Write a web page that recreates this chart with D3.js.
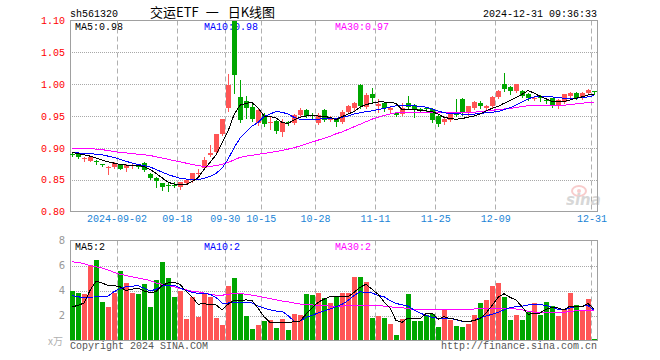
<!DOCTYPE html>
<html>
<head>
<meta charset="utf-8">
<script src="https://cdn.jsdelivr.net/npm/d3@7/dist/d3.min.js"></script>
<style>
  body { margin: 0; background: #fff; }
  #kline text { font-family: "Liberation Mono", "DejaVu Sans Mono", monospace; font-size: 10px; }
</style>
</head>
<body>
<div id="kline"></div>
<script>
// trading days shown (8/21 .. 12/31)
var dates = [
  '2024-08-21','2024-08-22','2024-08-23','2024-08-26','2024-08-27','2024-08-28','2024-08-29','2024-08-30',
  '2024-09-02','2024-09-03','2024-09-04','2024-09-05','2024-09-06','2024-09-09','2024-09-10','2024-09-11',
  '2024-09-12','2024-09-13','2024-09-18','2024-09-19','2024-09-20','2024-09-23','2024-09-24','2024-09-25',
  '2024-09-26','2024-09-27','2024-09-30','2024-10-08','2024-10-09','2024-10-10','2024-10-11','2024-10-14',
  '2024-10-15','2024-10-16','2024-10-17','2024-10-18','2024-10-21','2024-10-22','2024-10-23','2024-10-24',
  '2024-10-25','2024-10-28','2024-10-29','2024-10-30','2024-10-31','2024-11-01','2024-11-04','2024-11-05',
  '2024-11-06','2024-11-07','2024-11-08','2024-11-11','2024-11-12','2024-11-13','2024-11-14','2024-11-15',
  '2024-11-18','2024-11-19','2024-11-20','2024-11-21','2024-11-22','2024-11-25','2024-11-26','2024-11-27',
  '2024-11-28','2024-11-29','2024-12-02','2024-12-03','2024-12-04','2024-12-05','2024-12-06','2024-12-09',
  '2024-12-10','2024-12-11','2024-12-12','2024-12-13','2024-12-16','2024-12-17','2024-12-18','2024-12-19',
  '2024-12-20','2024-12-23','2024-12-24','2024-12-25','2024-12-26','2024-12-27','2024-12-30','2024-12-31'
];

var opens = [
  .890,.890,.883,.880,.879,.874,.869,.870,.874,.868,
  .872,.872,.876,.859,.853,.844,.842,.842,.838,.845,
  .849,.860,.868,.889,.893,.922,.962,1.100,.980,.973,
  .964,.939,.952,.939,.942,.925,.940,.939,.952,.960,
  .951,.939,.960,.944,.945,.940,.957,.962,.999,.964,
  .985,.965,.970,.959,.955,.953,.970,.967,.961,.962,
  .961,.950,.941,.944,.957,.976,.954,.963,.971,.962,
  .965,.980,1.000,.995,.989,.989,.984,.977,.982,.975,
  .978,.965,.972,.981,.986,.979,.986,.989
];
var closes = [
  .889,.885,.884,.886,.878,.873,.870,.876,.867,.873,
  .873,.871,.865,.852,.848,.839,.841,.841,.846,.849,
  .860,.861,.881,.892,.921,.945,.999,1.015,.943,.962,
  .946,.960,.938,.940,.926,.941,.939,.951,.960,.950,
  .950,.952,.944,.947,.941,.957,.965,.971,.965,.983,
  .978,.969,.962,.963,.951,.962,.964,.961,.960,.961,
  .943,.938,.946,.954,.952,.954,.965,.972,.965,.966,
  .980,.989,.993,.989,1.000,.982,.979,.978,.978,.974,
  .966,.975,.984,.986,.978,.986,.991,.988
];
var highs = [
  .892,.891,.886,.887,.881,.875,.872,.878,.875,.874,
  .876,.873,.877,.860,.854,.845,.847,.846,.847,.851,
  .861,.866,.886,.905,.922,.946,1.016,1.100,1.007,.982,
  .971,.962,.955,.948,.944,.946,.942,.953,.962,.961,
  .955,.954,.961,.950,.946,.959,.967,.972,1.000,.986,
  .994,.976,.972,.965,.957,.970,.982,.969,.963,.963,
  .962,.951,.947,.956,.977,.978,.966,.974,.973,.968,
  .981,.991,1.017,.997,1.000,.991,.986,.981,.983,.978,
  .979,.976,.985,.987,.987,.987,.993,.990
];
var lows = [
  .887,.884,.880,.879,.874,.871,.859,.868,.866,.863,
  .868,.869,.864,.851,.838,.833,.832,.838,.836,.843,
  .847,.858,.866,.887,.892,.920,.958,.986,.940,.947,
  .942,.936,.935,.930,.924,.918,.936,.937,.950,.948,
  .947,.937,.942,.942,.934,.939,.955,.960,.963,.962,
  .970,.957,.958,.957,.950,.951,.962,.948,.957,.958,
  .940,.935,.937,.942,.950,.952,.952,.961,.963,.960,
  .963,.978,.989,.985,.988,.980,.975,.975,.974,.970,
  .964,.963,.970,.979,.976,.977,.984,.985
];

var ma5 = [
  .893,.891,.889,.887,.884,.881,.878,.876,.874,.873,
  .872,.872,.871,.866,.860,.853,.846,.843,.842,.842,
  .847,.853,.866,.877,.889,.908,.926,.952,.967,.970,
  .971,.963,.950,.949,.947,.940,.938,.944,.948,.950,
  .951,.950,.949,.948,.944,.949,.953,.957,.964,.968,
  .970,.972,.972,.971,.970,.960,.960,.960,.959,.958,
  .957,.953,.948,.946,.945,.946,.948,.950,.953,.958,
  .962,.965,.970,.974,.979,.984,.990,.986,.981,.977,
  .973,.973,.973,.975,.978,.980,.983,.984
];
var ma10 = [
  .893,.892,.891,.891,.890,.889,.887,.885,.882,.879,
  .876,.874,.872,.870,.866,.862,.858,.855,.852,.851,
  .850,.850,.852,.855,.860,.868,.882,.900,.915,.925,
  .934,.940,.949,.953,.957,.956,.953,.948,.945,.944,
  .944,.945,.946,.946,.946,.948,.950,.953,.955,.957,
  .958,.960,.962,.964,.966,.967,.966,.966,.965,.964,
  .961,.958,.955,.954,.954,.953,.953,.953,.954,.955,
  .956,.957,.960,.963,.967,.972,.977,.980,.981,.981,
  .980,.979,.978,.978,.978,.979,.980,.982
];
var ma30 = [
  .899,.899,.899,.899,.898,.897,.896,.894,.893,.892,
  .891,.890,.889,.888,.886,.884,.882,.880,.878,.876,
  .874,.872,.871,.871,.872,.874,.877,.881,.885,.887,
  .888,.890,.891,.893,.894,.896,.898,.900,.903,.906,
  .909,.912,.915,.918,.922,.925,.929,.933,.937,.941,
  .945,.948,.951,.953,.955,.955,.955,.955,.955,.955,
  .955,.955,.955,.955,.955,.955,.955,.956,.957,.958,
  .959,.960,.961,.962,.963,.965,.966,.966,.966,.967,
  .967,.967,.967,.968,.969,.970,.971,.972
];

// volume, 万
var volumes = [
  3.98,3.79,3.69,6.02,6.45,3.10,2.71,3.82,5.54,4.59,
  3.82,3.71,4.51,2.71,4.83,6.26,5.01,3.50,3.98,1.72,
  3.50,1.91,3.69,3.50,1.83,1.25,4.35,5.01,3.71,1.99,
  0.93,1.25,1.56,1.62,1.03,1.72,0.85,2.12,2.04,3.71,
  3.63,3.79,3.40,3.02,3.45,3.82,3.82,5.09,5.09,4.69,
  1.83,1.99,1.83,1.35,0.40,1.72,3.74,1.59,1.59,2.04,
  2.12,1.11,2.52,1.67,1.19,1.11,1.35,2.04,3.02,3.24,
  4.38,4.62,3.50,1.64,2.07,1.64,2.31,3.00,2.04,3.10,
  2.76,1.99,2.44,3.79,2.84,2.36,3.32,0.13
];
var volMa5 = [
  2.70,2.80,3.00,4.00,4.75,4.60,4.40,4.40,4.30,4.00,
  4.10,4.20,3.95,3.85,3.90,4.40,4.60,4.65,4.50,3.95,
  3.50,2.90,2.95,2.85,2.85,2.45,2.90,3.20,3.20,3.25,
  3.20,2.60,1.90,1.45,1.40,1.45,1.45,1.50,1.55,2.10,
  2.60,3.05,3.30,3.50,3.50,3.50,3.50,3.85,4.25,4.50,
  4.10,3.70,3.10,2.60,1.60,1.45,1.80,1.80,1.75,2.15,
  2.20,1.70,1.90,1.75,1.70,1.55,1.50,1.60,1.75,2.20,
  2.80,3.45,3.75,3.45,3.25,2.70,2.10,2.15,2.20,2.50,
  2.65,2.60,2.45,2.75,2.75,2.70,2.95,2.55
];
var volMa10 = [
  3.58,3.50,3.42,3.45,3.50,3.50,3.55,3.90,4.15,4.30,
  4.35,4.38,4.20,3.95,4.10,4.35,4.43,4.43,4.20,4.00,
  3.85,3.77,3.75,3.70,3.45,3.00,3.00,3.05,3.05,3.05,
  3.00,2.75,2.60,2.45,2.36,2.36,2.00,1.55,1.55,1.85,
  2.00,2.20,2.35,2.52,2.70,2.89,3.20,3.60,3.90,3.85,
  3.80,3.60,3.50,3.20,2.97,2.85,2.75,2.45,2.20,2.00,
  1.85,1.78,1.78,1.78,1.65,1.55,1.50,1.62,1.80,1.95,
  2.10,2.25,2.45,2.63,2.70,2.75,2.84,2.87,2.89,2.80,
  2.65,2.50,2.44,2.60,2.71,2.75,2.79,2.44
];
var volMa30 = [
  6.30,6.25,6.15,6.00,5.90,5.80,5.65,5.45,5.30,5.20,
  5.10,5.00,4.90,4.80,4.60,4.50,4.40,4.30,4.16,4.05,
  3.95,3.90,3.80,3.70,3.63,3.62,3.70,3.77,3.75,3.70,
  3.63,3.55,3.45,3.35,3.25,3.16,3.10,3.00,2.92,2.89,
  2.85,2.80,2.80,2.75,2.70,2.75,2.80,2.84,2.84,2.80,
  2.80,2.79,2.75,2.70,2.65,2.63,2.55,2.45,2.44,2.48,
  2.50,2.52,2.52,2.52,2.52,2.52,2.52,2.52,2.54,2.55,
  2.56,2.57,2.56,2.54,2.52,2.45,2.35,2.28,2.25,2.25,
  2.25,2.25,2.27,2.30,2.38,2.44,2.40,2.36
];

var priceTicks  = [0.80, 0.85, 0.90, 0.95, 1.00, 1.05, 1.10];
var volumeTicks = [2, 4, 6, 8];
var tickDates   = ['2024-09-02','2024-09-18','2024-09-30','2024-10-15','2024-10-28','2024-11-11','2024-11-25','2024-12-09','2024-12-31'];
var tickLabels  = ['2024-09-02','09-18','09-30','10-15','10-28','11-11','11-25','12-09','12-31'];

var KLineChart = function( _id ) {

  var that = this;

  that.id = _id;
  that.w  = 660;
  that.h  = 360;

  that.left   = 70;
  that.right  = 597;
  that.pTop   = 20.5;
  that.pBot   = 211.5;
  that.vTop   = 240.5;
  that.vBot   = 340.5;

  that.red   = '#ff5555';
  that.green = '#00a600';
  that.frame = '#a0a0a0';

  that.init = function() {

    that.svg = d3.select('#'+that.id).append('svg')
      .attr('width', that.w)
      .attr('height', that.h);

    that.rows = dates.map(function(d, i) {
      return { date: d, o: opens[i], h: highs[i], l: lows[i], c: closes[i], v: volumes[i],
               ma5: ma5[i], ma10: ma10[i], ma30: ma30[i],
               vma5: volMa5[i], vma10: volMa10[i], vma30: volMa30[i] };
    });

    that.x = d3.scaleBand()
      .domain(dates)
      .range([that.left - 1, that.right + 1]);

    that.y = d3.scaleLinear()
      .domain([0.80, 1.10])
      .range([that.pBot, that.pTop]);

    that.yv = d3.scaleLinear()
      .domain([0, 8])
      .range([that.vBot, that.vTop]);

    that.drawHeader();
    that.drawGrid();
    that.drawPrice();
    that.drawVolume();
    that.drawFooter();

    return that;
  };

  that.cx = function(d) { return Math.floor(that.x(d)) + 3.5; };

  that.drawHeader = function() {

    that.svg.append('text')
      .attr('x', 70).attr('y', 16.5)
      .text('sh561320');

    // title, three pieces so the gaps round the dash stay wide
    var title = that.svg.append('text')
      .attr('x', 150).attr('y', 17)
      .style('font-family', '"Noto Sans CJK SC", sans-serif')
      .style('font-size', '13px');
    title.append('tspan').text('交运ETF');
    title.append('tspan').attr('dx', 7).text('一');
    title.append('tspan').attr('dx', 9).text('日K线图');

    that.svg.append('text')
      .attr('x', that.right).attr('y', 16.5)
      .attr('text-anchor', 'end')
      .text('2024-12-31 09:36:33');
  };

  that.drawGrid = function() {

    var g = that.svg.append('g').attr('class', 'grid');

    // horizontal dotted lines
    g.selectAll('.hp')
      .data(priceTicks.filter(function(t) { return t > 0.80 && t < 1.10; }))
    .enter().append('line')
      .attr('x1', that.left).attr('x2', that.right)
      .attr('y1', function(d) { return Math.round(that.y(d)) + 0.5; })
      .attr('y2', function(d) { return Math.round(that.y(d)) + 0.5; })
      .attr('stroke', '#a8a8a8')
      .attr('stroke-dasharray', '1,1');

    g.selectAll('.hv')
      .data(volumeTicks.filter(function(t) { return t < 8; }))
    .enter().append('line')
      .attr('x1', that.left).attr('x2', that.right)
      .attr('y1', function(d) { return Math.round(that.yv(d)) + 0.5; })
      .attr('y2', function(d) { return Math.round(that.yv(d)) + 0.5; })
      .attr('stroke', '#a8a8a8')
      .attr('stroke-dasharray', '1,1');

    // vertical dashed lines, both panels
    [[that.pTop, that.pBot], [that.vTop, that.vBot]].forEach(function(span) {
      g.selectAll(null)
        .data(tickDates)
      .enter().append('line')
        .attr('x1', function(d) { return Math.floor(that.x(d)) + 0.5; })
        .attr('x2', function(d) { return Math.floor(that.x(d)) + 0.5; })
        .attr('y1', span[0]).attr('y2', span[1])
        .attr('stroke', '#b0b0b0')
        .attr('stroke-dasharray', '5,3');
    });

    // frames
    [[that.pTop, that.pBot], [that.vTop, that.vBot]].forEach(function(span) {
      g.append('rect')
        .attr('x', that.left + 0.5).attr('y', span[0])
        .attr('width', that.right - that.left).attr('height', span[1] - span[0])
        .attr('fill', 'none')
        .attr('stroke', that.frame);
    });

    // price axis
    that.svg.append('g')
      .attr('class', 'y axis')
      .attr('transform', 'translate(' + that.left + ',0)')
      .call(d3.axisLeft(that.y).tickValues(priceTicks).tickFormat(d3.format('.2f')).tickSize(0).tickPadding(5))
      .call(function(g) { g.select('.domain').remove(); })
      .selectAll('text')
        .attr('fill', '#ff0000')
        .style('font-family', '"Liberation Mono", monospace')
        .style('font-size', '10px');

    // volume axis
    that.svg.append('g')
      .attr('class', 'yv axis')
      .attr('transform', 'translate(' + that.left + ',0)')
      .call(d3.axisLeft(that.yv).tickValues(volumeTicks).tickFormat(d3.format('d')).tickSize(0).tickPadding(5))
      .call(function(g) { g.select('.domain').remove(); })
      .selectAll('text')
        .attr('fill', '#999')
        .style('font-family', '"DejaVu Sans", sans-serif')
        .style('font-size', '10px');

    // date axis, labels centred on the dashed lines
    var labelOf = {};
    tickDates.forEach(function(d, i) { labelOf[d] = tickLabels[i]; });

    that.svg.append('g')
      .attr('class', 'x axis')
      .attr('transform', 'translate(' + (-that.x.bandwidth() / 2) + ',' + that.pBot + ')')
      .call(d3.axisBottom(that.x).tickValues(tickDates).tickFormat(function(d) { return labelOf[d]; }).tickSize(0).tickPadding(3))
      .call(function(g) { g.select('.domain').remove(); })
      .selectAll('text')
        .attr('fill', '#1a84d6')
        .style('font-family', '"Liberation Mono", monospace')
        .style('font-size', '10px');
  };

  that.legend = function(y, items) {
    items.forEach(function(it) {
      that.svg.append('text')
        .attr('x', it.x).attr('y', y)
        .attr('fill', it.color)
        .text(it.label);
    });
  };

  that.drawPrice = function() {

    var last = that.rows[that.rows.length - 1];
    var f2 = d3.format('.2f');

    that.legend(29.5, [
      { x: 75,  color: '#000',    label: 'MA5:'  + f2(last.ma5) },
      { x: 204, color: '#0000ff', label: 'MA10:' + f2(last.ma10) },
      { x: 335, color: '#ff00ff', label: 'MA30:' + f2(last.ma30) }
    ]);

    var candles = that.svg.append('g')
      .attr('class', 'candles')
      .attr('shape-rendering', 'crispEdges');

    var colorOf = function(d) { return d.c >= d.o ? that.red : that.green; };

    candles.selectAll('.wick')
      .data(that.rows)
    .enter().append('line')
      .attr('class', 'wick')
      .attr('x1', function(d) { return that.cx(d.date) - 0.5; })
      .attr('x2', function(d) { return that.cx(d.date) - 0.5; })
      .attr('y1', function(d) { return Math.round(that.y(d.h)); })
      .attr('y2', function(d) { return Math.round(that.y(d.l)) + 1; })
      .attr('stroke', colorOf);

    candles.selectAll('.body')
      .data(that.rows)
    .enter().append('rect')
      .attr('class', 'body')
      .attr('x', function(d) { return Math.floor(that.x(d.date)) + 1; })
      .attr('width', 5)
      .attr('y', function(d) { return Math.round(that.y(Math.max(d.o, d.c))); })
      .attr('height', function(d) {
        return Math.max(1, Math.round(that.y(Math.min(d.o, d.c))) - Math.round(that.y(Math.max(d.o, d.c))));
      })
      .attr('fill', colorOf);

    var lines = [
      { key: 'ma30', color: '#ff00ff' },
      { key: 'ma10', color: '#0000ff' },
      { key: 'ma5',  color: '#000000' }
    ];

    lines.forEach(function(l) {
      var line = d3.line()
        .x(function(d) { return that.cx(d.date) - 0.5; })
        .y(function(d) { return that.y(d[l.key]); });

      that.svg.append('path')
        .datum(that.rows)
        .attr('class', 'line ' + l.key)
        .attr('d', line)
        .attr('fill', 'none')
        .attr('stroke', l.color)
        .attr('stroke-width', 1)
        .attr('shape-rendering', 'crispEdges');
    });

    // sina watermark
    var wm = that.svg.append('g').attr('class', 'watermark').attr('opacity', 0.45);
    wm.append('ellipse')
      .attr('cx', 579).attr('cy', 191).attr('rx', 7).attr('ry', 5)
      .attr('fill', 'none').attr('stroke', '#f09090').attr('stroke-width', 2);
    wm.append('circle')
      .attr('cx', 579).attr('cy', 191).attr('r', 2)
      .attr('fill', '#f09090');
    wm.append('text')
      .attr('x', 566).attr('y', 205)
      .style('font-family', '"DejaVu Sans", sans-serif')
      .style('font-size', '15px')
      .style('font-weight', 'bold')
      .style('font-style', 'italic')
      .attr('fill', '#a8a8a8')
      .text('sina');
  };

  that.drawVolume = function() {

    var last = that.rows[that.rows.length - 1];
    var fi = function(v) { return String(Math.floor(v)); };

    that.legend(250, [
      { x: 75,  color: '#000',    label: 'MA5:'  + fi(last.vma5) },
      { x: 204, color: '#0000ff', label: 'MA10:' + fi(last.vma10) },
      { x: 335, color: '#ff00ff', label: 'MA30:' + fi(last.vma30) }
    ]);

    that.svg.append('g')
      .attr('class', 'vol')
      .attr('shape-rendering', 'crispEdges')
    .selectAll('.vbar')
      .data(that.rows)
    .enter().append('rect')
      .attr('class', 'vbar')
      .attr('x', function(d) { return Math.floor(that.x(d.date)) + 1; })
      .attr('width', 5)
      .attr('y', function(d) { return Math.round(that.yv(d.v)); })
      .attr('height', function(d) { return Math.round(that.vBot - 0.5) - Math.round(that.yv(d.v)); })
      .attr('fill', function(d) { return d.c >= d.o ? that.red : that.green; });

    [{ key: 'vma30', color: '#ff00ff' },
     { key: 'vma10', color: '#0000ff' },
     { key: 'vma5',  color: '#000000' }].forEach(function(l) {
      var line = d3.line()
        .x(function(d) { return that.cx(d.date) - 0.5; })
        .y(function(d) { return that.yv(d[l.key]); });

      that.svg.append('path')
        .datum(that.rows)
        .attr('d', line)
        .attr('fill', 'none')
        .attr('stroke', l.color)
        .attr('stroke-width', 1)
        .attr('shape-rendering', 'crispEdges');
    });

    that.svg.append('text')
      .attr('x', 48).attr('y', 345)
      .attr('fill', '#b0b0b0')
      .style('font-family', '"Noto Sans CJK SC", serif')
      .style('font-size', '10px')
      .text('x万');
  };

  that.drawFooter = function() {

    that.svg.append('text')
      .attr('x', 70).attr('y', 349)
      .attr('fill', '#555')
      .text('Copyright 2024 SINA.COM');

    that.svg.append('text')
      .attr('x', that.right).attr('y', 349)
      .attr('text-anchor', 'end')
      .attr('fill', '#555')
      .text('http://finance.sina.com.cn');
  };

  return that;
};

new KLineChart('kline').init();
</script>
</body>
</html>
